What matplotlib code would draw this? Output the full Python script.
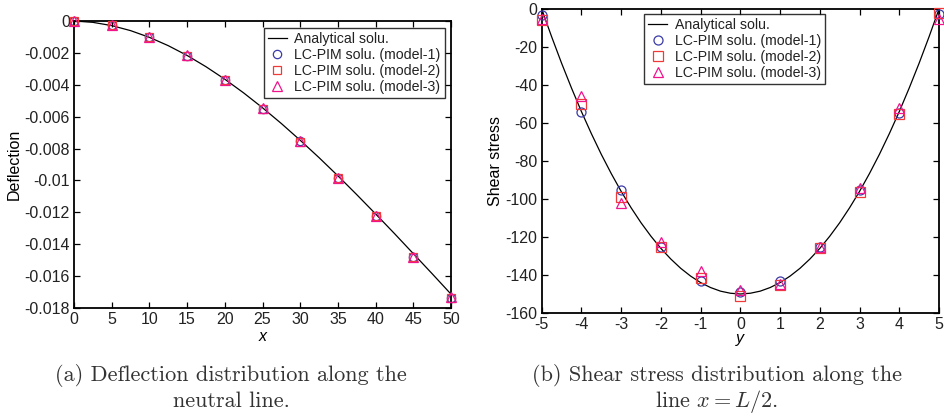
import matplotlib
matplotlib.use("Agg")
import matplotlib.pyplot as plt

plt.rcParams["font.family"] = ["Liberation Sans", "DejaVu Sans"]
plt.rcParams["mathtext.fontset"] = "cm"
plt.rcParams["axes.unicode_minus"] = False

# ---- (a) deflection along the neutral line ----
x_line = [0, 2.5, 5, 7.5, 10, 12.5, 15, 17.5, 20, 22.5, 25, 27.5, 30, 32.5,
          35, 37.5, 40, 42.5, 45, 47.5, 50]
defl_line = [0.0, -0.000084, -0.000288, -0.000603, -0.001025, -0.001547,
             -0.00216, -0.002866, -0.00365, -0.00451, -0.00544, -0.00643,
             -0.00748, -0.00857, -0.00971, -0.01089, -0.0121, -0.01333,
             -0.01459, -0.01585, -0.01713]
x_pts = [0, 5, 10, 15, 20, 25, 30, 35, 40, 45, 50]
defl_m1 = [0.0, -0.00026, -0.00102, -0.00217, -0.00369, -0.00549, -0.00755,
           -0.00983, -0.01224, -0.01479, -0.01735]
defl_m2 = [0.0, -0.00027, -0.00103, -0.00219, -0.00371, -0.00551, -0.00757,
           -0.00985, -0.01226, -0.01481, -0.01738]
defl_m3 = [0.0, -0.00025, -0.00101, -0.00216, -0.00368, -0.00548, -0.00754,
           -0.00982, -0.01223, -0.01478, -0.01734]
xa_ticks = [0, 5, 10, 15, 20, 25, 30, 35, 40, 45, 50]
ya_ticks = [0, -0.002, -0.004, -0.006, -0.008, -0.01, -0.012, -0.014, -0.016, -0.018]
ya_labels = ["0", "-0.002", "-0.004", "-0.006", "-0.008", "-0.01", "-0.012",
             "-0.014", "-0.016", "-0.018"]

# ---- (b) shear stress along x = L/2 ----
y_line = [-5, -4.75, -4.5, -4.25, -4, -3.75, -3.5, -3.25, -3, -2.75, -2.5,
          -2.25, -2, -1.75, -1.5, -1.25, -1, -0.75, -0.5, -0.25, 0,
          0.25, 0.5, 0.75, 1, 1.25, 1.5, 1.75, 2, 2.25, 2.5, 2.75, 3,
          3.25, 3.5, 3.75, 4, 4.25, 4.5, 4.75, 5]
tau_line = [0.0, -14.6, -28.5, -41.6, -54.0, -65.6, -76.5, -86.6, -96.0,
            -104.6, -112.5, -119.6, -126.0, -131.6, -136.5, -140.6, -144.0,
            -146.6, -148.5, -149.6, -150.0,
            -149.6, -148.5, -146.6, -144.0, -140.6, -136.5, -131.6, -126.0,
            -119.6, -112.5, -104.6, -96.0, -86.6, -76.5, -65.6, -54.0,
            -41.6, -28.5, -14.6, 0.0]
y_pts = [-5, -4, -3, -2, -1, 0, 1, 2, 3, 4, 5]
tau_m1 = [-3, -54, -95, -125, -143, -149, -143, -125, -95.5, -54.5, -2.5]
tau_m2 = [-6, -50, -99, -125.5, -141.5, -151, -145, -126, -96.5, -55.5, -2]
tau_m3 = [-5, -46, -102, -122.5, -138, -148, -144.5, -125.5, -94, -52, -5]
xb_ticks = [-5, -4, -3, -2, -1, 0, 1, 2, 3, 4, 5]
yb_ticks = [0, -20, -40, -60, -80, -100, -120, -140, -160]

labels = ["Analytical solu.", "LC-PIM solu. (model-1)",
          "LC-PIM solu. (model-2)", "LC-PIM solu. (model-3)"]
c1, c2, c3 = "#3a3aa8", "#f03a3a", "#f0148c"

fig = plt.figure(figsize=(9.45, 4.19), dpi=100)
axa = fig.add_axes([74 / 945, 1 - 308 / 419, 377 / 945, 287 / 419])
axb = fig.add_axes([541.7 / 945, 1 - 313 / 419, 397.3 / 945, 304 / 419])


def style(ax):
    ax.tick_params(direction="in", top=True, right=True, length=4,
                   width=0.9, labelsize=11.5, pad=3, labelcolor="#222222")
    for s in ax.spines.values():
        s.set_linewidth(1.3)


def draw(ax, xl, yl, xp, m1, m2, m3, ms):
    ax.plot(xl, yl, color="black", lw=0.9, label=labels[0])
    ax.plot(xp, m1, ls="none", marker="o", mfc="none", mec=c1, ms=ms,
            mew=0.9, label=labels[1], clip_on=False, zorder=3)
    ax.plot(xp, m2, ls="none", marker="s", mfc="none", mec=c2, ms=ms,
            mew=0.9, label=labels[2], clip_on=False, zorder=3)
    ax.plot(xp, m3, ls="none", marker="^", mfc="none", mec=c3, ms=ms + 1,
            mew=0.9, label=labels[3], clip_on=False, zorder=3)


def legend(ax, loc, anchor):
    leg = ax.legend(loc=loc, bbox_to_anchor=anchor, fontsize=10.2,
                    frameon=True, fancybox=False, edgecolor="black",
                    handlelength=1.3, handletextpad=0.55, borderpad=0.3,
                    labelspacing=0.12, borderaxespad=0.0)
    leg.get_frame().set_linewidth(1.0)
    for t in leg.get_texts():
        t.set_color("#222222")


draw(axa, x_line, defl_line, x_pts, defl_m1, defl_m2, defl_m3, 6)
axa.set_xlim(0, 50)
axa.set_ylim(-0.018, 0)
axa.set_xticks(xa_ticks)
axa.set_yticks(ya_ticks)
axa.set_yticklabels(ya_labels)
style(axa)
axa.set_xlabel("x", fontsize=11.5, style="italic", labelpad=1)
axa.set_ylabel("Deflection", fontsize=11.5, labelpad=2)
legend(axa, "upper right", (0.984, 0.975))

draw(axb, y_line, tau_line, y_pts, tau_m1, tau_m2, tau_m3, 6.5)
axb.set_xlim(-5, 5)
axb.set_ylim(-160, 0)
axb.set_xticks(xb_ticks)
axb.set_yticks(yb_ticks)
style(axb)
axb.set_xlabel("y", fontsize=11.5, style="italic", labelpad=-1)
axb.set_ylabel("Shear stress", fontsize=11.5, labelpad=2)
legend(axb, "upper left", (0.258, 0.983))

# sub-figure captions, one text per line so both share the same baselines
cap = dict(fontsize=16, family="cmr10", ha="center", va="baseline",
           color="#333333")
captions = [
    (231, ["(a) Deflection distribution along the", "neutral line."]),
    (717, ["(b) Shear stress distribution along the", "line $x = L/2$."]),
]
for cx, lines in captions:
    for base, line in zip([381, 407], lines):
        fig.text(cx / 945, 1 - base / 419, line, **cap)

fig.savefig("out.png", dpi=100)
